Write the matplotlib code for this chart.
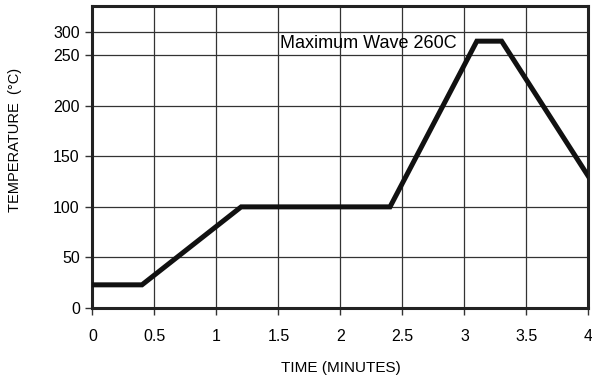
import numpy as np
import matplotlib
matplotlib.use('Agg')
import matplotlib.pyplot as plt

# reflow profile
time_min = [0, 0.4, 1.2, 2.4, 3.1, 3.3, 4.0]
temp_c = [23, 23, 100, 100, 280, 280, 130]

x_ticks = [0, 0.5, 1, 1.5, 2, 2.5, 3, 3.5, 4]
x_labels = ['0', '0.5', '1', '1.5', '2', '2.5', '3', '3.5', '4']
y_ticks = [0, 50, 100, 150, 200, 250, 300]

# the original axis squeezes everything above 250
squeeze = 0.455


def fwd(y):
    y = np.asarray(y, dtype=float)
    return np.where(y <= 250, y, 250 + (y - 250) * squeeze)


def inv(y):
    y = np.asarray(y, dtype=float)
    return np.where(y <= 250, y, 250 + (y - 250) / squeeze)


plt.rcParams['font.family'] = 'Liberation Sans'

fig = plt.figure(figsize=(5.92, 3.79), dpi=100)
ax = fig.add_axes([0.156, 0.187, 0.838, 0.798])
ax.set_yscale('function', functions=(fwd, inv))

ax.plot(time_min, temp_c, color='#111111', linewidth=3.6,
        solid_joinstyle='miter', zorder=3)

ax.set_xlim(0, 4)
ax.set_ylim(0, 357)
ax.set_xticks(x_ticks)
ax.set_xticklabels(x_labels)
ax.set_yticks(y_ticks)
ax.grid(True, color='#333333', linewidth=0.9)

for side in ['left', 'bottom', 'top', 'right']:
    ax.spines[side].set_linewidth(2.2)
    ax.spines[side].set_color('#222222')
ax.tick_params(axis='both', labelsize=11.5, length=5, width=1.0,
               color='#333333', pad=4)
ax.tick_params(axis='x', pad=10)

ax.text(1.51, 275, 'Maximum Wave 260C', fontsize=13, va='center', ha='left')

ax.set_xlabel('TIME (MINUTES)', fontsize=11, labelpad=12)
ax.set_ylabel('TEMPERATURE  (\u00b0C)', fontsize=10.5)
ax.yaxis.set_label_coords(-0.142, 0.555)

fig.savefig('out.png', dpi=100)
